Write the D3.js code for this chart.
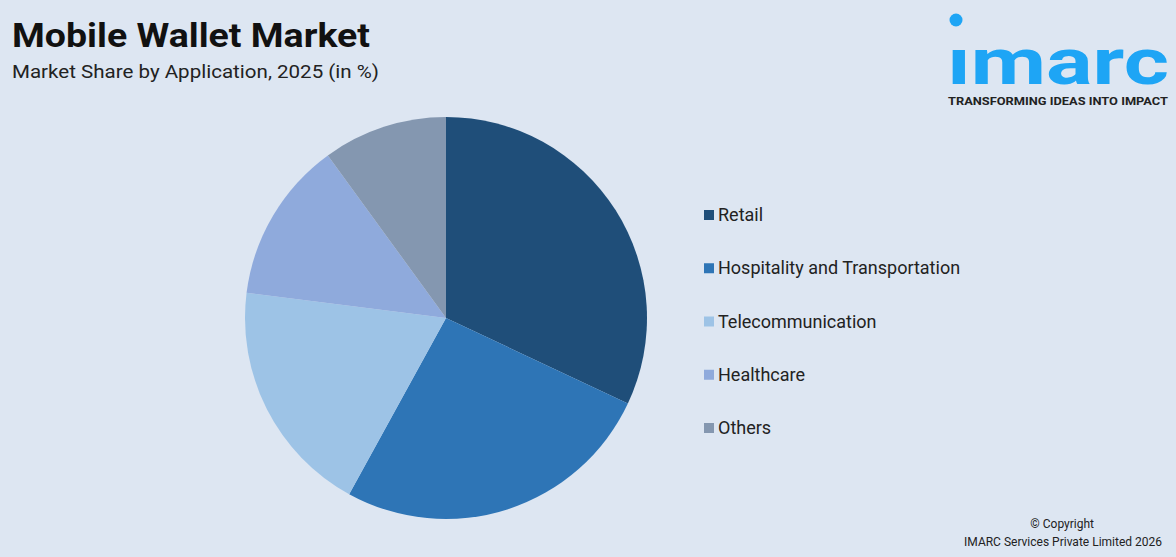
<!DOCTYPE html>
<html><head><meta charset="utf-8">
<script src="https://cdn.jsdelivr.net/npm/d3@7"></script>
<style>body{margin:0;background:#dde6f2;}svg{display:block;font-family:Roboto,"Noto Sans",sans-serif;}</style>
</head><body>
<svg width="1176" height="557"></svg>
<script>
var categories = ["Retail", "Hospitality and Transportation", "Telecommunication", "Healthcare", "Others"];
var shares = [32, 26, 19, 13, 10];
var colors = ["#1f4e79", "#2e75b6", "#9dc3e6", "#8faadc", "#8497b0"];

var svg = d3.select("svg");
svg.append("rect").attr("width", 1176).attr("height", 557).attr("fill", "#dde6f2");

svg.append("text").attr("x", 12).attr("y", 47).attr("font-size", 33).attr("font-weight", 700)
  .attr("fill", "#111").attr("textLength", 358).attr("lengthAdjust", "spacingAndGlyphs")
  .text("Mobile Wallet Market");
svg.append("text").attr("x", 12).attr("y", 78).attr("font-size", 19).attr("fill", "#222")
  .attr("textLength", 367).attr("lengthAdjust", "spacingAndGlyphs")
  .text("Market Share by Application, 2025 (in %)");

// logo
var logo = svg.append("g");
logo.append("circle").attr("cx", 956).attr("cy", 20).attr("r", 6.5).attr("fill", "#1ea5f5");
logo.append("text").attr("x", 947).attr("y", 84).attr("font-size", 56).attr("font-weight", 700)
  .attr("fill", "#1ea5f5").attr("textLength", 222).attr("lengthAdjust", "spacingAndGlyphs")
  .attr("transform", "translate(0,84) scale(1,1.15) translate(0,-84)")
  .text("ımarc");
logo.append("text").attr("x", 948).attr("y", 105)
  .attr("font-size", 11).attr("font-weight", 700).attr("fill", "#222")
  .attr("textLength", 220).attr("lengthAdjust", "spacingAndGlyphs").text("TRANSFORMING IDEAS INTO IMPACT");

var pie = d3.pie().sort(null).value(d => d)(shares);
var arc = d3.arc().innerRadius(0).outerRadius(201);
svg.append("g").attr("transform", "translate(446,318)")
  .selectAll("path").data(pie).enter().append("path")
  .attr("d", arc).attr("fill", (d, i) => colors[i]);

var y = d3.scalePoint().domain(categories).range([215, 428]);
var leg = svg.append("g").selectAll("g").data(categories).enter().append("g")
  .attr("transform", d => "translate(704," + y(d) + ")");
leg.append("rect").attr("x", 0).attr("y", -5).attr("width", 10).attr("height", 10)
  .attr("fill", (d, i) => colors[i]);
leg.append("text").attr("x", 14).attr("y", 6).attr("font-size", 18).attr("fill", "#222").text(d => d);

svg.append("text").attr("x", 1094).attr("y", 528).attr("text-anchor", "end").attr("font-size", 12)
  .attr("fill", "#222").text("© Copyright");
svg.append("text").attr("x", 1162).attr("y", 546).attr("text-anchor", "end").attr("font-size", 12)
  .attr("fill", "#222").text("IMARC Services Private Limited 2026");
</script>
</body></html>
